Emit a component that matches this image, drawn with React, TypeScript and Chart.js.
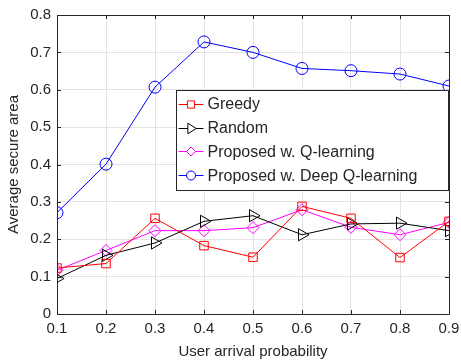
import React, { useEffect, useRef } from "react";
import { Chart, registerables } from "chart.js";

Chart.register(...registerables);

const xValues = [0.1, 0.2, 0.3, 0.4, 0.5, 0.6, 0.7, 0.8, 0.9];
const greedy = [0.123, 0.135, 0.256, 0.183, 0.152, 0.288, 0.256, 0.151, 0.248];
const random = [0.095, 0.157, 0.19, 0.248, 0.263, 0.212, 0.241, 0.243, 0.223];
const qLearning = [0.117, 0.17, 0.223, 0.223, 0.231, 0.279, 0.232, 0.212, 0.245];
const deepQLearning = [0.271, 0.401, 0.607, 0.728, 0.7, 0.657, 0.651, 0.642, 0.61];
const seriesNames = ["Greedy", "Random", "Proposed w. Q-learning", "Proposed w. Deep Q-learning"];

const FONT = "Liberation Sans, Arial, Helvetica, sans-serif";
const TEXT = "#262626";

const toPoints = (vals: number[]) => vals.map((y, i) => ({ x: xValues[i], y }));

const framePlugin = {
  id: "frame",
  afterDraw(chart: any) {
    const { ctx, chartArea } = chart;
    const { left, right, top, bottom } = chartArea;
    const xs = chart.scales.x;
    const ys = chart.scales.y;
    ctx.save();
    ctx.strokeStyle = TEXT;
    ctx.lineWidth = 1;
    ctx.beginPath();
    ctx.rect(Math.round(left) + 0.5, Math.round(top) + 0.5, Math.round(right - left), Math.round(bottom - top));
    ctx.stroke();
    const tl = 4;
    ctx.beginPath();
    xs.ticks.forEach((t: any) => {
      const px = Math.round(xs.getPixelForValue(t.value)) + 0.5;
      ctx.moveTo(px, bottom);
      ctx.lineTo(px, bottom - tl);
      ctx.moveTo(px, top);
      ctx.lineTo(px, top + tl);
    });
    ys.ticks.forEach((t: any) => {
      const py = Math.round(ys.getPixelForValue(t.value)) + 0.5;
      ctx.moveTo(left, py);
      ctx.lineTo(left + tl, py);
      ctx.moveTo(right, py);
      ctx.lineTo(right - tl, py);
    });
    ctx.stroke();

    // legend
    const bx = 176.5, by = 90.5, bw = 272, bh = 100;
    ctx.fillStyle = "#ffffff";
    ctx.fillRect(bx, by, bw, bh);
    ctx.strokeStyle = TEXT;
    ctx.strokeRect(bx, by, bw, bh);
    ctx.font = `16px ${FONT}`;
    ctx.textBaseline = "middle";
    ctx.textAlign = "left";
    chart.data.datasets.forEach((ds: any, i: number) => {
      const cy = by + 13.5 + i * 23.7;
      ctx.strokeStyle = ds.borderColor;
      ctx.lineWidth = 1;
      ctx.beginPath();
      ctx.moveTo(bx + 2, Math.round(cy) + 0.5);
      ctx.lineTo(bx + 27, Math.round(cy) + 0.5);
      ctx.stroke();
      const r = ds.pointRadius * 0.75;
      ctx.beginPath();
      const mx = bx + 14.5, my = Math.round(cy) + 0.5;
      if (ds.pointStyle === "rect") {
        ctx.rect(mx - r * 0.8, my - r * 0.8, r * 1.6, r * 1.6);
      } else if (ds.pointStyle === "circle") {
        ctx.arc(mx, my, r, 0, Math.PI * 2);
      } else if (ds.pointStyle === "rectRot") {
        ctx.moveTo(mx, my - r);
        ctx.lineTo(mx + r, my);
        ctx.lineTo(mx, my + r);
        ctx.lineTo(mx - r, my);
        ctx.closePath();
      } else {
        ctx.moveTo(mx + r, my);
        ctx.lineTo(mx - r * 0.6, my - r);
        ctx.lineTo(mx - r * 0.6, my + r);
        ctx.closePath();
      }
      ctx.fillStyle = "#ffffff";
      ctx.fill();
      ctx.stroke();
      ctx.fillStyle = TEXT;
      ctx.fillText(ds.label, bx + 31, cy + 1);
    });
    ctx.restore();
  },
};

export default function App() {
  const ref = useRef<HTMLCanvasElement>(null);
  useEffect(() => {
    const canvas = ref.current;
    if (!canvas) return;
    const common = { borderWidth: 1, pointBorderWidth: 1, pointBackgroundColor: "rgba(0,0,0,0)", tension: 0 };
    const chart = new Chart(canvas, {
      type: "line",
      data: {
        datasets: [
          { ...common, label: seriesNames[0], data: toPoints(greedy), borderColor: "#ff0000", pointBorderColor: "#ff0000", pointStyle: "rect", pointRadius: 6 },
          { ...common, label: seriesNames[1], data: toPoints(random), borderColor: "#000000", pointBorderColor: "#000000", pointStyle: "triangle", pointRotation: 90, pointRadius: 7 },
          { ...common, label: seriesNames[2], data: toPoints(qLearning), borderColor: "#ff00ff", pointBorderColor: "#ff00ff", pointStyle: "rectRot", pointRadius: 6 },
          { ...common, label: seriesNames[3], data: toPoints(deepQLearning), borderColor: "#0000ff", pointBorderColor: "#0000ff", pointStyle: "circle", pointRadius: 6 },
        ],
      },
      options: {
        animation: false,
        responsive: false,
        maintainAspectRatio: false,
        layout: { padding: { top: 13, right: 12, left: 0, bottom: 0 } },
        plugins: { legend: { display: false }, tooltip: { enabled: false } },
        scales: {
          x: {
            type: "linear",
            min: 0.1,
            max: 0.9,
            afterFit: (s: any) => { s.height = 50; s.paddingRight = 0; s.paddingLeft = 0; },
            ticks: {
              stepSize: 0.1,
              color: TEXT,
              font: { family: FONT, size: 15 },
              padding: 6,
              maxRotation: 0,
              callback: (v: any) => Number(v).toFixed(1),
            },
            grid: { color: "#e3e3e3", drawTicks: false },
            border: { display: false },
            title: { display: true, text: "User arrival probability", color: TEXT, font: { family: FONT, size: 15 }, padding: { top: 0, bottom: 3 } },
          },
          y: {
            min: 0,
            max: 0.8,
            afterFit: (s: any) => { s.width = 57; },
            ticks: {
              stepSize: 0.1,
              color: TEXT,
              font: { family: FONT, size: 15 },
              padding: 6,
              callback: (v: any) => (Number(v) === 0 ? "0" : Number(v).toFixed(1)),
            },
            grid: { color: "#e3e3e3", drawTicks: false },
            border: { display: false },
            title: { display: true, text: "Average secure area", color: TEXT, font: { family: FONT, size: 15 }, padding: { top: 5, bottom: 0 } },
          },
        },
      },
      plugins: [framePlugin],
    } as any);
    return () => chart.destroy();
  }, []);
  return (
    <div style={{ position: "absolute", left: 0, top: 0, width: 461, height: 364, background: "#fff" }}>
      <canvas ref={ref} width={461} height={364} style={{ display: "block", width: 461, height: 364 }} />
    </div>
  );
}
